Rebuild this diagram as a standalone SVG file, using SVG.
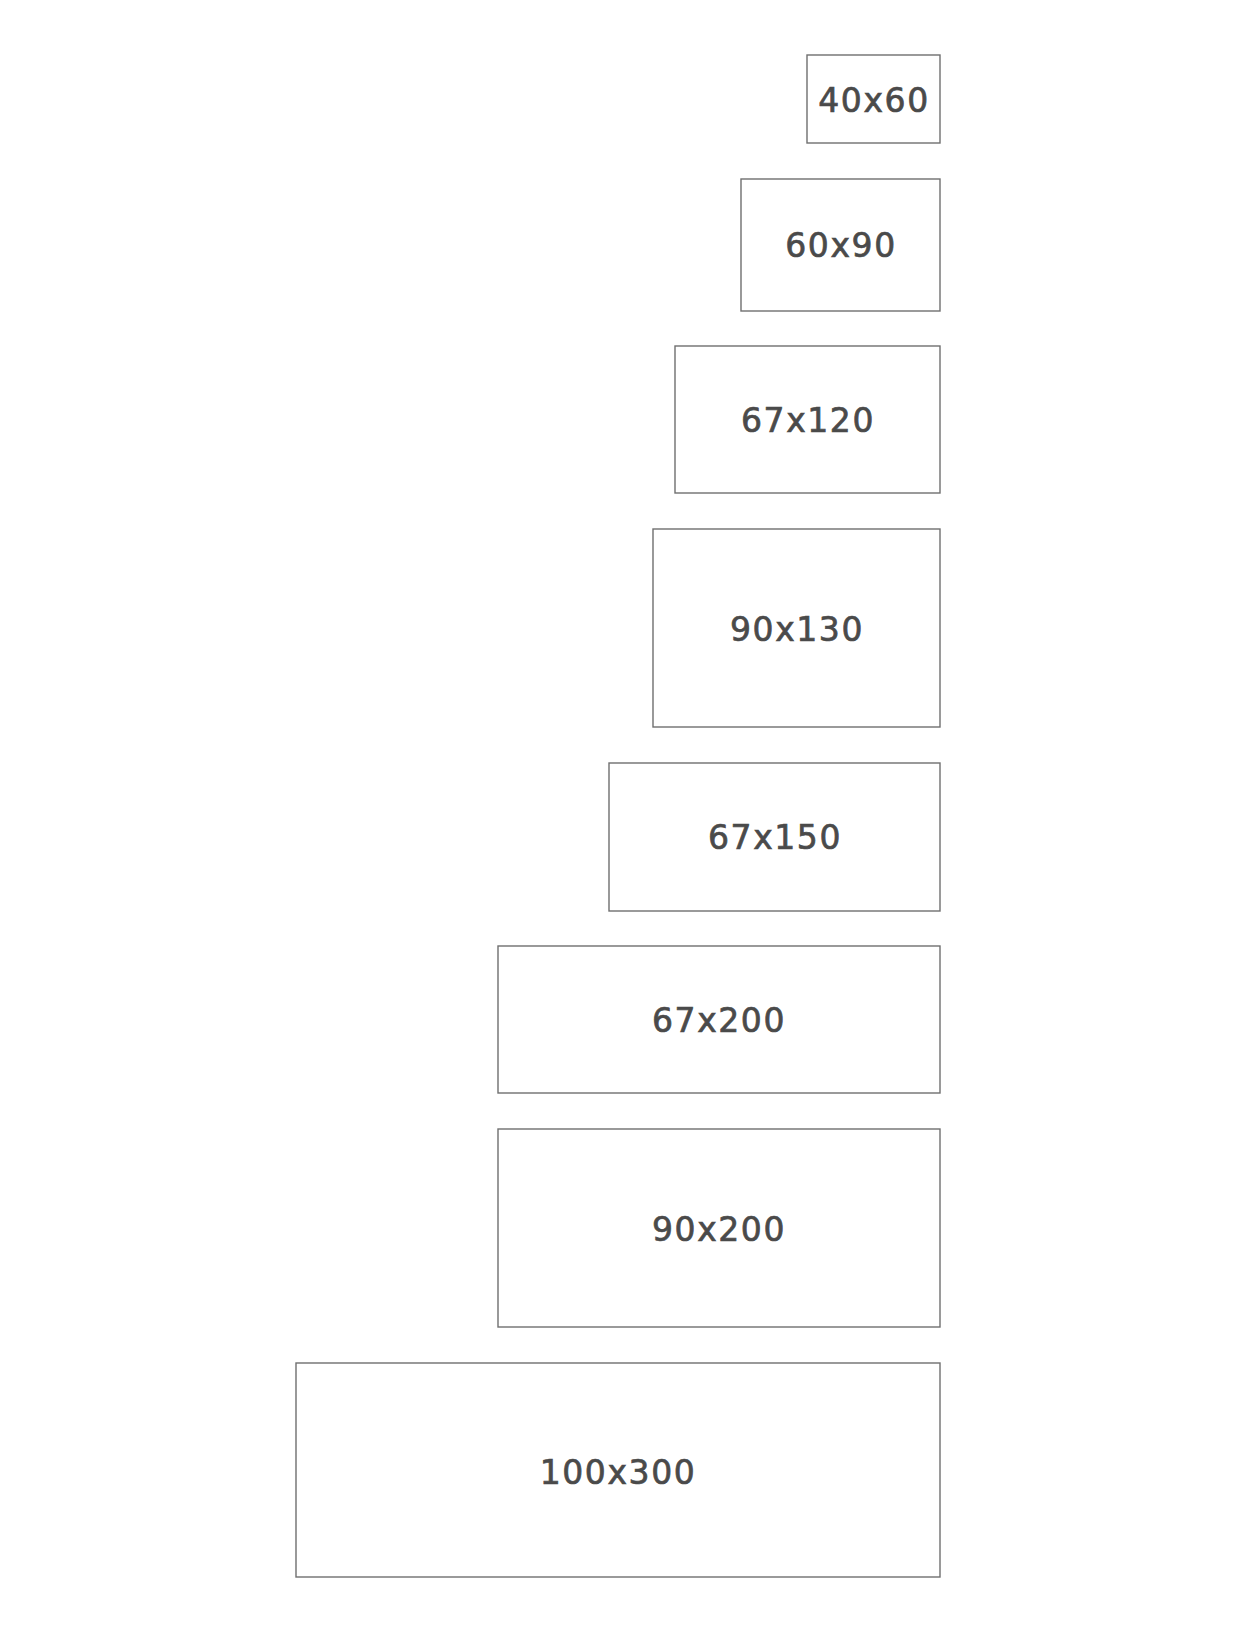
<svg xmlns="http://www.w3.org/2000/svg" width="1240" height="1633" viewBox="0 0 1240 1633">
<style>
.box{fill:#ffffff;stroke:#6f6f6f;stroke-width:1.4}
.lbl{font-family:"DejaVu Sans","Liberation Sans",sans-serif;font-size:33px;fill:#4a4a4a;stroke:#4a4a4a;stroke-width:0.7;text-anchor:middle;letter-spacing:1.6px}
</style>
<rect width="1240" height="1633" fill="#ffffff"/>
<g id="connectors"></g>
<g id="n40x60"><rect class="box" x="807" y="55" width="133" height="88"/><text class="lbl" x="874" y="112">40x60</text></g>
<g id="n60x90"><rect class="box" x="741" y="179" width="199" height="132"/><text class="lbl" x="841" y="257">60x90</text></g>
<g id="n67x120"><rect class="box" x="675" y="346" width="265" height="147"/><text class="lbl" x="808" y="432">67x120</text></g>
<g id="n90x130"><rect class="box" x="653" y="529" width="287" height="198"/><text class="lbl" x="797" y="641">90x130</text></g>
<g id="n67x150"><rect class="box" x="609" y="763" width="331" height="148"/><text class="lbl" x="775" y="849">67x150</text></g>
<g id="n67x200"><rect class="box" x="498" y="946" width="442" height="147"/><text class="lbl" x="719" y="1032">67x200</text></g>
<g id="n90x200"><rect class="box" x="498" y="1129" width="442" height="198"/><text class="lbl" x="719" y="1241">90x200</text></g>
<g id="n100x300"><rect class="box" x="296" y="1363" width="644" height="214"/><text class="lbl" x="618" y="1484">100x300</text></g>
</svg>
